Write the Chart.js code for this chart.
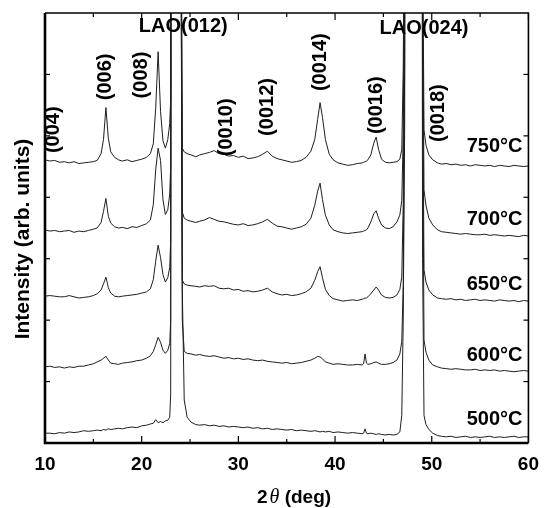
<!DOCTYPE html>
<html><head><meta charset="utf-8">
<script src="https://cdn.jsdelivr.net/npm/chart.js@4.4.1/dist/chart.umd.min.js"></script>
<style>html,body{margin:0;padding:0;background:#fff}canvas{display:block}</style>
</head><body>
<canvas id="c" width="549" height="508"></canvas>
<script>
// 2θ grid (deg)
const twoTheta = [10,10.5,11,11.5,12,12.5,13,13.5,14,14.5,15,
  15.4,15.8,16.05,16.3,16.55,16.8,17.2,17.6,
  18,18.5,19,19.5,20,20.5,
  20.9,21.2,21.45,21.7,21.95,22.2,22.45,22.7,22.9,
  23.0,23.1,23.5,23.95,24.05,
  24.2,24.4,24.7,25.1,25.6,
  26,26.5,27,27.5,28,28.5,29,29.5,30,30.5,31,31.5,32,32.5,33,33.5,34,34.5,35,35.5,36,36.5,37,37.5,
  37.9,38.2,38.45,38.7,39,39.4,39.8,
  40.3,40.8,41.3,41.8,42.3,42.8,
  42.95,43.1,43.25,43.4,43.7,
  44.0,44.25,44.5,44.8,45.2,45.6,46,46.4,46.7,
  46.9,47.05,47.2,47.35,47.9,48.85,49.05,
  49.2,49.4,49.7,50.1,50.6,
  51,51.5,52,52.5,53,53.5,54,54.5,55,55.5,56,56.5,57,57.5,58,58.5,59,59.5,60];

// intensities (arb. units, vertically offset traces)
const i750 = [461,459,460,457,458,456,458,455,456,457,458,
  460,471,494,546,496,474,465,461,
  459,461,458,460,462,465,
  471,487,545,637,540,492,480,494,520,
  560,3000,20000,3000,900,
  480,474,471,469,466,
  469,471,473,476,471,470,467,468,465,467,463,464,466,470,475,467,463,461,459,457,458,460,465,475,
  494,527,554,530,494,470,461,
  456,454,452,453,455,456,
  457,458,459,461,469,
  488,498,478,462,457,456,457,458,462,
  478,610,960,2500,20000,3000,850,
  510,485,469,461,456,
  454,455,453,454,452,453,451,453,452,451,452,450,452,451,450,452,451,450,451];
const i700 = [347,345,346,344,345,346,343,345,344,346,348,
  350,359,377,398,369,358,352,350,
  351,349,352,351,354,357,
  363,388,445,480,460,396,372,380,405,
  450,3000,20000,3000,900,
  376,366,363,361,359,
  361,363,367,364,361,360,358,356,355,357,354,355,357,360,364,358,353,352,350,348,350,352,356,366,
  387,410,423,396,371,355,347,
  344,342,341,342,343,344,
  345,346,347,350,360,
  373,378,366,355,350,349,352,360,371,
  395,500,850,2500,20000,3000,750,
  412,387,366,355,347,
  344,343,342,341,340,341,340,339,339,340,338,339,338,337,338,337,336,338,337];
const i650 = [239,240,239,238,238,240,238,236,237,238,240,
  243,249,259,270,253,244,239,238,
  239,240,241,242,244,246,
  251,266,296,322,302,274,262,269,286,
  330,3000,20000,3000,900,
  265,259,257,256,255,
  254,256,255,256,252,251,252,249,250,247,248,246,247,249,252,246,243,241,242,240,241,243,246,252,
  265,279,287,269,250,240,235,
  233,231,232,233,232,234,
  235,236,236,238,243,
  249,254,249,241,237,236,237,241,250,
  270,390,740,2500,20000,3000,650,
  282,262,249,241,236,
  235,234,235,233,234,232,233,234,232,233,232,231,233,232,231,232,230,232,231];
const i600 = [124,125,123,124,122,124,123,125,125,127,129,
  132,135,138,141,135,130,129,128,
  130,131,132,134,135,138,
  142,149,160,172,164,151,146,151,162,
  200,3000,20000,3000,900,
  200,149,146,145,143,
  144,142,141,142,140,138,139,137,138,136,137,135,134,135,133,132,131,130,131,129,130,131,133,135,
  138,141,140,137,132,130,128,
  129,128,127,127,128,127,
  129,145,130,128,129,
  131,132,130,128,128,129,131,135,145,
  165,260,620,2500,20000,3000,550,
  168,148,135,127,124,
  122,121,120,121,120,119,119,120,118,119,118,119,117,118,117,116,117,118,117];
const i500 = [16,16,15,17,16,18,17,18,20,19,20,
  21,20,22,21,23,22,23,24,
  23,25,26,25,28,29,
  31,32,38,33,35,33,36,37,42,
  80,3000,20000,3000,1500,
  250,70,42,34,30,
  29,30,28,29,27,28,26,27,26,25,26,24,25,23,24,22,23,22,21,22,20,21,20,19,
  20,19,18,19,18,19,17,
  18,17,16,17,16,15,
  16,23,16,15,16,
  15,14,15,14,13,14,13,14,18,
  45,200,520,2500,20000,3000,300,
  45,30,22,16,12,
  11,10,11,9,10,11,9,10,9,10,11,9,10,9,10,11,9,10,10];

const xTickValues = [10,20,30,40,50,60];
const tempLabels = ['750°C','700°C','650°C','600°C','500°C'];
const tempLabelY = [482,364,258,142,38];
const peakLabels = ['(004)','(006)','(008)','(0010)','(0012)','(0014)','(0016)','(0018)'];
const peakLabelX = [10.85,16.3,20.0,28.75,33.0,38.45,44.25,50.65];
const peakLabelY = [510,596,599,514,547,620,550,537];
const substrateLabels = ['LAO(012)','LAO(024)'];
const substrateLabelX = [24.3,49.2];
const substrateLabelY = [678,675];

const traces = [i750,i700,i650,i600,i500];
const datasets = traces.map((arr,k)=>({
  label: tempLabels[k],
  data: twoTheta.map((t,i)=>({x:t,y:arr[i]})),
  borderColor:'#1e1e1e', borderWidth:1, pointRadius:0, tension:0, fill:false
}));

const FONT = '"Liberation Sans", Arial, Helvetica, sans-serif';

const deco = {
  id:'deco',
  afterDatasetsDraw(chart){
    const {ctx, chartArea:a, scales:{x,y}} = chart;
    ctx.save();
    const line=(x1,y1,x2,y2)=>{ctx.beginPath();ctx.moveTo(x1,y1);ctx.lineTo(x2,y2);ctx.stroke();};
    ctx.strokeStyle='#000';
    // ticks
    ctx.lineWidth=1.2;
    for(let v=10; v<=60; v+=5){
      const px=x.getPixelForValue(v); const len=(v%10===0)?7:4;
      line(px,a.bottom,px,a.bottom-len); line(px,a.top,px,a.top+len);
    }
    for(let v=100; v<700; v+=100){
      const py=y.getPixelForValue(v);
      line(a.left,py,a.left+5,py); line(a.right,py,a.right-5,py);
    }
    // frame
    ctx.lineWidth=2.6;
    ctx.beginPath(); ctx.moveTo(a.left,a.top); ctx.lineTo(a.left,a.bottom); ctx.lineTo(a.right,a.bottom); ctx.stroke();
    ctx.lineWidth=1.6;
    ctx.beginPath(); ctx.moveTo(a.left,a.top); ctx.lineTo(a.right,a.top); ctx.lineTo(a.right,a.bottom); ctx.stroke();

    ctx.fillStyle='#000';
    ctx.font='bold 20px '+FONT;
    ctx.textAlign='center'; ctx.textBaseline='middle';
    // temperature labels
    tempLabels.forEach((t,i)=>ctx.fillText(t, x.getPixelForValue(56.5), y.getPixelForValue(tempLabelY[i])));
    substrateLabels.forEach((t,i)=>ctx.fillText(t, x.getPixelForValue(substrateLabelX[i]), y.getPixelForValue(substrateLabelY[i])));
    // rotated peak labels
    peakLabels.forEach((t,i)=>{
      ctx.save();
      ctx.translate(x.getPixelForValue(peakLabelX[i]), y.getPixelForValue(peakLabelY[i]));
      ctx.rotate(-Math.PI/2);
      ctx.fillText(t,0,0);
      ctx.restore();
    });
    // y axis title
    ctx.save();
    ctx.translate(29,239); ctx.rotate(-Math.PI/2);
    ctx.textBaseline='alphabetic';
    ctx.font='bold 21px '+FONT;
    ctx.fillText('Intensity (arb. units)',0,0);
    ctx.restore();
    // x axis title
    ctx.textAlign='left'; ctx.textBaseline='alphabetic';
    let cx=257; const by=503;
    ctx.font='bold 19px '+FONT; ctx.fillText('2',cx,by); cx+=ctx.measureText('2').width+2;
    ctx.font='italic 20px "Liberation Serif", "Times New Roman", serif'; ctx.fillText('θ',cx,by); cx+=ctx.measureText('θ').width;
    ctx.font='bold 19px '+FONT; ctx.fillText(' (deg)',cx,by);
    ctx.restore();
  }
};

new Chart(document.getElementById('c'),{
  type:'line',
  data:{datasets},
  options:{
    responsive:false, animation:false, devicePixelRatio:1,
    layout:{padding:{top:13,right:14,left:45,bottom:0}},
    plugins:{legend:{display:false}, tooltip:{enabled:false}},
    scales:{
      x:{type:'linear', min:10, max:60,
        afterBuildTicks:(s)=>{s.ticks = xTickValues.map(v=>({value:v}));},
        afterFit:(s)=>{s.height=65;},
        grid:{display:false, drawTicks:false}, border:{display:false},
        ticks:{color:'#000', padding:10, font:{family:FONT, size:19, weight:'bold'}, maxRotation:0}
      },
      y:{display:false, min:0, max:700}
    }
  },
  plugins:[deco]
});
</script>
</body></html>
